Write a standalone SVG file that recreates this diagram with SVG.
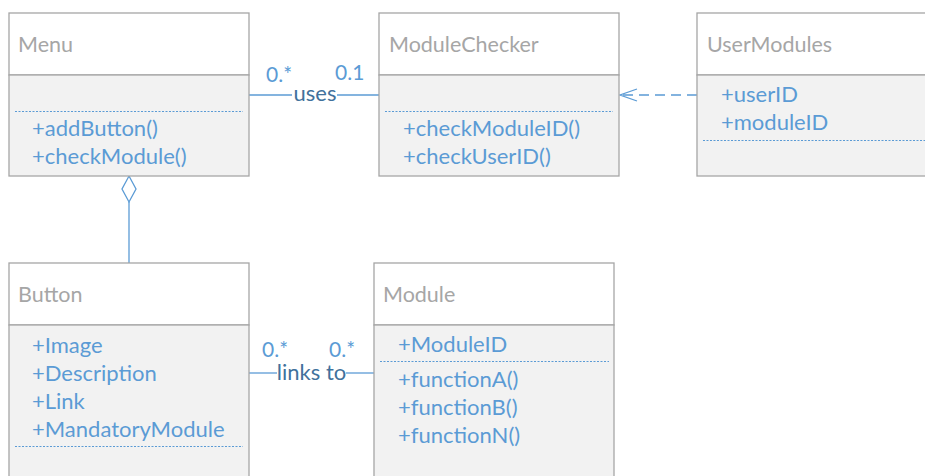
<svg xmlns="http://www.w3.org/2000/svg" width="925" height="476" viewBox="0 0 925 476">
<style>
.hdr{fill:#FFFFFF;stroke:#A6A6A6;stroke-width:1.3}
.body{fill:#F2F2F2;stroke:#A6A6A6;stroke-width:1.3}
.title{font-family:Lato,"Liberation Sans",sans-serif;font-size:21.5px;fill:#A6A6A6}
.mem{font-family:Lato,"Liberation Sans",sans-serif;font-size:22px;fill:#5B9BD5}
.sep{stroke:#5B9BD5;stroke-width:1;stroke-dasharray:2,1.5;fill:none}
.conn{stroke:#5B9BD5;stroke-width:1.3;fill:none}
.lbl{font-family:Lato,"Liberation Sans",sans-serif;font-size:22px;fill:#41719C}
.mult{font-family:Lato,"Liberation Sans",sans-serif;font-size:21px;fill:#5B9BD5}
</style>
<g id="connectors">
  <line class="conn" x1="249" y1="95" x2="292" y2="95"/>
  <line class="conn" x1="337" y1="95" x2="379" y2="95"/>
  <text class="lbl" x="315" y="101" text-anchor="middle">uses</text>
  <text class="mult" x="266" y="82">0.*</text>
  <text class="mult" x="335" y="80">0.1</text>
  <line class="conn" x1="697" y1="95" x2="620" y2="95" stroke-dasharray="10,6"/>
  <polyline class="conn" points="637,89 620,95 637,101"/>
  <polygon class="conn" points="129,176 136,189 129,202 122,189" fill="#FFFFFF"/>
  <line class="conn" x1="129" y1="202" x2="129" y2="263"/>
  <line class="conn" x1="249" y1="373" x2="277" y2="373"/>
  <line class="conn" x1="346" y1="373" x2="374" y2="373"/>
  <text class="lbl" x="311.5" y="380" text-anchor="middle">links to</text>
  <text class="mult" x="262" y="357">0.*</text>
  <text class="mult" x="329" y="357">0.*</text>
</g>
<g id="Menu">
  <rect class="hdr" x="9" y="13" width="240" height="62"/>
  <rect class="body" x="9" y="75" width="240" height="101"/>
  <text class="title" x="18" y="52">Menu</text>
  <line class="sep" x1="15" y1="111.5" x2="243" y2="111.5"/>
  <text class="mem" x="32" y="136">+addButton()</text>
  <text class="mem" x="32" y="164">+checkModule()</text>
</g>
<g id="ModuleChecker">
  <rect class="hdr" x="379" y="13" width="240" height="62"/>
  <rect class="body" x="379" y="75" width="240" height="101"/>
  <text class="title" x="389" y="52">ModuleChecker</text>
  <line class="sep" x1="385" y1="111.5" x2="613" y2="111.5"/>
  <text class="mem" x="403" y="136">+checkModuleID()</text>
  <text class="mem" x="403" y="164">+checkUserID()</text>
</g>
<g id="UserModules">
  <rect class="hdr" x="697" y="13" width="260" height="62"/>
  <rect class="body" x="697" y="75" width="260" height="101"/>
  <text class="title" x="707" y="52">UserModules</text>
  <text class="mem" x="721" y="102">+userID</text>
  <text class="mem" x="721" y="130">+moduleID</text>
  <line class="sep" x1="703" y1="140.5" x2="925" y2="140.5"/>
</g>
<g id="Button">
  <rect class="hdr" x="9" y="263" width="240" height="62"/>
  <rect class="body" x="9" y="325" width="240" height="160"/>
  <text class="title" x="18" y="302">Button</text>
  <text class="mem" x="32" y="353">+Image</text>
  <text class="mem" x="32" y="381">+Description</text>
  <text class="mem" x="32" y="409">+Link</text>
  <text class="mem" x="32" y="437">+MandatoryModule</text>
  <line class="sep" x1="15" y1="446.5" x2="243" y2="446.5"/>
</g>
<g id="Module">
  <rect class="hdr" x="374" y="263" width="240" height="62"/>
  <rect class="body" x="374" y="325" width="240" height="160"/>
  <text class="title" x="383" y="302">Module</text>
  <text class="mem" x="398" y="352">+ModuleID</text>
  <line class="sep" x1="380" y1="361.5" x2="609" y2="361.5"/>
  <text class="mem" x="398" y="387">+functionA()</text>
  <text class="mem" x="398" y="415">+functionB()</text>
  <text class="mem" x="398" y="443">+functionN()</text>
</g>
</svg>
